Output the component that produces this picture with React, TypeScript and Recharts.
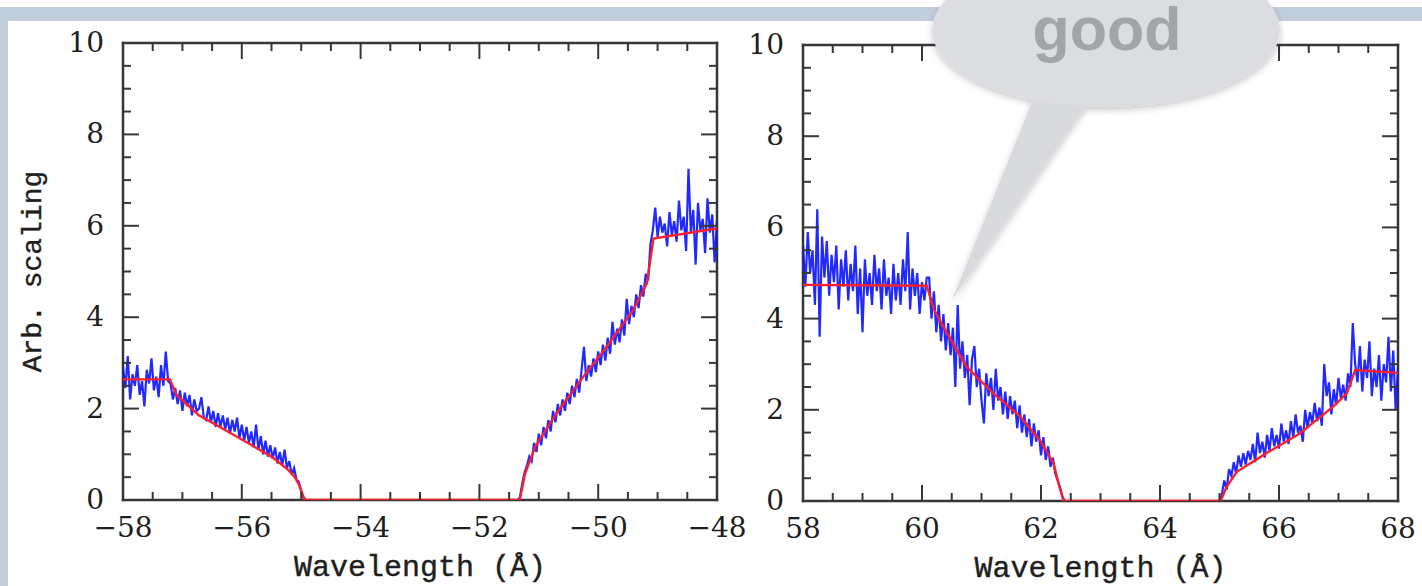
import React from 'react';
import { LineChart, Line, XAxis, YAxis, CartesianGrid } from 'recharts';

// ---------------- DATA ----------------
const STEP = 0.04; // wavelength sampling of the measured spectrum (Å)

// Left panel, measured (blue) spectrum
const LEFT_A_START = -58.0;
const leftBlueA = [
  2.9, 2.45, 3.15, 2.2, 2.75, 2.5, 2.95, 2.3, 2.6, 2.05, 2.85, 2.55, 3.1, 2.4, 2.7, 2.25, 2.95, 2.5, 3.25, 2.6,
  2.55, 2.2, 2.45, 2.1, 2.4, 1.95, 2.35, 2.05, 2.3, 1.85,
  2.2, 1.95, 2.0, 2.25, 1.8, 1.75, 2.05, 1.7, 1.95, 1.6,
  1.9, 1.6, 1.85, 1.55, 1.8, 1.45, 1.75, 1.5, 1.8, 1.35,
  1.65, 1.3, 1.6, 1.25, 1.5, 1.15, 1.65, 1.1, 1.4, 1.0,
  1.3, 0.95, 1.2, 0.9, 1.15, 0.8, 1.05, 0.75, 1.1, 0.7,
  0.85, 0.55, 0.7, 0.45, 0.4, 0.2, 0.05, 0,
];
const LEFT_B_START = -51.36;
const leftBlueB = [
  0, 0.05, 0.35, 0.6, 0.75, 0.95, 0.85, 1.25, 1.05, 1.45,
  1.2, 1.6, 1.35, 1.75, 1.5, 1.95, 1.7, 2.1, 1.85, 2.2,
  1.95, 2.35, 2.1, 2.5, 2.25, 2.65, 2.35, 2.85, 3.35, 2.6,
  2.95, 2.7, 3.1, 2.8, 3.25, 2.95, 3.4, 3.05, 3.55, 3.2,
  3.9, 3.4, 3.75, 3.45, 3.95, 3.6, 4.4, 3.85, 4.25, 4.0,
  4.5, 4.2, 4.7, 4.45, 4.95, 4.8, 5.6, 5.9, 6.4, 5.75,
  6.2, 5.85, 6.05, 5.55, 6.3, 5.8, 6.1, 5.65, 6.55, 5.9,
  6.2, 5.45, 7.25, 5.85, 6.35, 5.15, 6.5, 5.9, 6.15, 5.4,
  6.6, 5.85, 6.25, 5.2, 6.1,
];

// Left panel, model (red)
const leftModelX = [-58, -57.21, -57.1, -56.73, -56.28, -55.89, -55.5, -55.22, -55.12, -55.05, -55.0, -54.94, -51.32, -51.23, -51.06, -50.7, -50.25, -49.86, -49.41, -49.18, -49.07, -48.0];
const leftModelY = [2.64, 2.64, 2.3, 1.86, 1.53, 1.24, 0.95, 0.66, 0.52, 0.37, 0.2, 0, 0, 0.58, 1.17, 1.9, 2.7, 3.35, 4.16, 4.74, 5.72, 5.94];

// Right panel, measured (blue) spectrum
const RIGHT_A_START = 58.0;
const rightBlueA = [
  5.6, 4.7, 5.9, 5.0, 5.5, 4.3, 6.4, 3.6, 5.8, 4.9,
  5.7, 4.5, 5.4, 4.8, 5.6, 4.2, 5.3, 4.7, 5.5, 4.4,
  5.2, 4.6, 5.6, 4.1, 5.1, 3.7, 5.3, 4.5, 5.0, 4.3,
  5.4, 4.6, 5.1, 4.2, 5.3, 4.5, 4.9, 4.1, 5.2, 4.4,
  5.0, 4.3, 5.3, 4.6, 5.9, 4.2, 5.1, 4.5, 5.0, 4.1,
  4.8, 4.4, 4.9,
  4.9, 4.0, 4.6, 3.7, 4.3, 3.5, 4.1, 3.3, 3.9, 3.2,
  3.8, 2.5, 4.3, 2.9, 3.5, 2.7, 3.2, 2.1, 3.1, 3.4,
  2.5, 2.9, 2.2, 1.7, 2.8, 2.3, 2.7, 2.0, 2.9, 2.2,
  2.5, 1.9, 2.4, 1.8, 2.3, 1.9, 2.2, 1.6, 2.1, 1.5,
  1.9, 1.4, 1.8, 1.2, 1.7, 1.3, 1.55, 1.0, 1.4, 0.9,
  1.2, 0.75, 0.95, 0.6, 0.45, 0.3, 0.1, 0,
];
const RIGHT_B_START = 65.0;
const rightBlueB = [
  0.0, 0.15, 0.45, 0.25, 0.7, 0.55, 0.85, 0.6, 1.0, 0.75,
  1.05, 0.8, 1.1, 0.9, 1.25, 0.85, 1.5, 1.05, 1.3, 0.95,
  1.45, 1.1, 1.6, 1.2, 1.45, 1.15, 1.7, 1.3, 1.55, 1.25,
  1.75, 1.4, 1.9, 1.5, 1.65, 1.3, 2.0, 1.6, 1.95, 1.7,
  2.15, 1.75, 2.05, 1.65, 3.0, 2.3, 2.6, 1.9, 2.45, 2.1,
  2.7, 2.25, 2.55, 2.2, 2.8, 2.5, 3.9, 3.0, 2.6, 3.4,
  2.4, 3.1, 2.7, 3.5, 2.3, 2.9, 2.5, 3.2, 2.2, 3.0,
  2.6, 3.6, 2.4, 3.3, 2.0, 2.9,
];

// Right panel, model (red)
const rightModelX = [58, 60.08, 60.2, 60.36, 60.75, 61.2, 61.65, 61.98, 62.21, 62.31, 62.38, 65.02, 65.12, 65.29, 65.79, 66.35, 66.91, 67.14, 67.28, 68];
const rightModelY = [4.74, 4.72, 4.2, 3.82, 2.94, 2.36, 1.85, 1.34, 0.83, 0.31, 0, 0, 0.31, 0.64, 1.05, 1.48, 2.07, 2.36, 2.87, 2.81];

// Axis ticks
const LEFT_X_TICKS = [-58, -57.5, -57, -56.5, -56, -55.5, -55, -54.5, -54, -53.5, -53, -52.5, -52, -51.5, -51, -50.5, -50, -49.5, -49, -48.5, -48];
const RIGHT_X_TICKS = [58, 58.5, 59, 59.5, 60, 60.5, 61, 61.5, 62, 62.5, 63, 63.5, 64, 64.5, 65, 65.5, 66, 66.5, 67, 67.5, 68];
const Y_TICKS = [0, 0.5, 1, 1.5, 2, 2.5, 3, 3.5, 4, 4.5, 5, 5.5, 6, 6.5, 7, 7.5, 8, 8.5, 9, 9.5, 10];
const LEFT_DOMAIN: [number, number] = [-58, -48];
const RIGHT_DOMAIN: [number, number] = [58, 68];
const Y_DOMAIN: [number, number] = [0, 10];

const X_TITLE = 'Wavelength (Å)';
const Y_TITLE = 'Arb. scaling';
const BUBBLE_TEXT = 'good';

// ---------------- helpers ----------------
const toSeries = (start: number, ys: number[]) =>
  ys.map((y, i) => ({ x: Math.round((start + i * STEP) * 100) / 100, y }));
const zipSeries = (xs: number[], ys: number[]) => xs.map((x, i) => ({ x, y: ys[i] }));

const leftBlue = [...toSeries(LEFT_A_START, leftBlueA), ...toSeries(LEFT_B_START, leftBlueB)];
const leftRed = zipSeries(leftModelX, leftModelY);
const rightBlue = [...toSeries(RIGHT_A_START, rightBlueA), ...toSeries(RIGHT_B_START, rightBlueB)];
const rightRed = zipSeries(rightModelX, rightModelY);

const AXIS = '#363636';
const TEXT = '#1e1e1e';
const NUM_FONT = '"DejaVu Serif", serif';
const TITLE_FONT = '"Liberation Mono", "Courier New", monospace';
const MAJOR_LEN = 16;
const MINOR_LEN = 8;

const isMajor = (v: number) => Math.abs(v / 2 - Math.round(v / 2)) < 1e-6;
const fmt = (v: number) => (v < 0 ? '\u2212' + Math.abs(v) : String(v));

const bottomTick = (props: any) => {
  const { x, y, payload } = props;
  const v = payload.value as number;
  const major = isMajor(v);
  return (
    <g>
      <line x1={x} x2={x} y1={y} y2={y - (major ? MAJOR_LEN : MINOR_LEN)} stroke={AXIS} strokeWidth={2} />
      {major && (
        <text x={x} y={y + 37} textAnchor="middle" fontFamily={NUM_FONT} fontSize={28} fill={TEXT}>
          {fmt(v)}
        </text>
      )}
    </g>
  );
};
const topTick = (props: any) => {
  const { x, y, payload } = props;
  const major = isMajor(payload.value);
  return <line x1={x} x2={x} y1={y} y2={y + (major ? MAJOR_LEN : MINOR_LEN)} stroke={AXIS} strokeWidth={2} />;
};
const leftTick = (props: any) => {
  const { x, y, payload } = props;
  const v = payload.value as number;
  const major = isMajor(v);
  return (
    <g>
      <line x1={x} x2={x + (major ? MAJOR_LEN : MINOR_LEN)} y1={y} y2={y} stroke={AXIS} strokeWidth={2} />
      {major && (
        <text x={x - 19} y={y + 9} textAnchor="end" fontFamily={NUM_FONT} fontSize={28} fill={TEXT}>
          {fmt(v)}
        </text>
      )}
    </g>
  );
};
const rightTick = (props: any) => {
  const { x, y, payload } = props;
  const major = isMajor(payload.value);
  return <line x1={x} x2={x - (major ? MAJOR_LEN : MINOR_LEN)} y1={y} y2={y} stroke={AXIS} strokeWidth={2} />;
};

const xTitle = (props: any) => {
  const vb = props.viewBox || {};
  return (
    <text
      x={vb.x + vb.width / 2}
      y={vb.y + 76}
      textAnchor="middle"
      fontFamily={TITLE_FONT}
      fontSize={30}
      fill={TEXT}
      stroke={TEXT}
      strokeWidth={0.4}
    >
      {X_TITLE}
    </text>
  );
};
const yTitle = (props: any) => {
  const vb = props.viewBox || {};
  const cx = vb.x + vb.width - 90;
  const cy = vb.y + vb.height / 2;
  return (
    <text
      x={cx}
      y={cy}
      transform={`rotate(-90 ${cx} ${cy})`}
      textAnchor="middle"
      dominantBaseline="central"
      fontFamily={TITLE_FONT}
      fontSize={28}
      fill={TEXT}
      stroke={TEXT}
      strokeWidth={0.4}
    >
      {Y_TITLE}
    </text>
  );
};

// frame of the plot, taken from the chart's own plot offset
const frameH = (p: any) => [p.offset.top, p.offset.top + p.offset.height];
const frameV = (p: any) => [p.offset.left, p.offset.left + p.offset.width];

type PanelProps = {
  blue: { x: number; y: number }[];
  red: { x: number; y: number }[];
  domain: [number, number];
  ticks: number[];
  width: number;
  height: number;
  margin: { top: number; right: number; bottom: number; left: number };
  showYTitle: boolean;
  style: React.CSSProperties;
};

// Axes get a 1px band (0 would make Recharts skip drawing them); margins absorb it.
function Panel({ blue, red, domain, ticks, width, height, margin, showYTitle, style }: PanelProps) {
  const m = { top: margin.top - 1, right: margin.right - 1, bottom: margin.bottom - 1, left: margin.left - 1 };
  const common = {
    interval: 0 as const,
    allowDataOverflow: true,
    tickSize: 0,
    tickMargin: 0,
    tickLine: false,
    axisLine: false,
  };
  return (
    <div style={style}>
      <LineChart width={width} height={height} margin={m}>
        <CartesianGrid
          xAxisId="b"
          yAxisId="l"
          stroke={AXIS}
          strokeWidth={2.5}
          strokeLinecap="square"
          horizontalCoordinatesGenerator={frameH}
          verticalCoordinatesGenerator={frameV}
        />
        <XAxis xAxisId="b" type="number" dataKey="x" domain={domain} ticks={ticks} height={1} tick={bottomTick} label={xTitle} {...common} />
        <XAxis xAxisId="t" orientation="top" type="number" dataKey="x" domain={domain} ticks={ticks} height={1} tick={topTick} {...common} />
        <YAxis
          yAxisId="l"
          type="number"
          domain={Y_DOMAIN}
          ticks={Y_TICKS}
          width={1}
          tick={leftTick}
          label={showYTitle ? yTitle : undefined}
          {...common}
        />
        <YAxis yAxisId="r" orientation="right" type="number" domain={Y_DOMAIN} ticks={Y_TICKS} width={1} tick={rightTick} {...common} />
        <Line
          data={blue}
          dataKey="y"
          xAxisId="b"
          yAxisId="l"
          type="linear"
          stroke="#0a12ff"
          strokeOpacity={0.9}
          strokeWidth={2.2}
          dot={false}
          activeDot={false}
          isAnimationActive={false}
        />
        <Line
          data={red}
          dataKey="y"
          xAxisId="b"
          yAxisId="l"
          type="linear"
          stroke="#ff1f2a"
          strokeWidth={2.4}
          dot={false}
          activeDot={false}
          isAnimationActive={false}
        />
      </LineChart>
    </div>
  );
}

export default function App() {
  return (
    <div style={{ position: 'relative', width: 1422, height: 586, background: '#fff', overflow: 'hidden' }}>
      <style>{'body{margin:0;}'}</style>
      <div style={{ position: 'absolute', left: 0, top: 7, width: 1422, height: 14, background: '#c3cedd' }} />
      <div style={{ position: 'absolute', left: 0, top: 7, width: 8, height: 579, background: '#c3cedd' }} />
      <Panel
        blue={leftBlue}
        red={leftRed}
        domain={LEFT_DOMAIN}
        ticks={LEFT_X_TICKS}
        width={760}
        height={586}
        margin={{ top: 43, right: 43, bottom: 86, left: 123 }}
        showYTitle={true}
        style={{ position: 'absolute', left: 0, top: 0 }}
      />
      <Panel
        blue={rightBlue}
        red={rightRed}
        domain={RIGHT_DOMAIN}
        ticks={RIGHT_X_TICKS}
        width={682}
        height={586}
        margin={{ top: 45, right: 24, bottom: 85, left: 63 }}
        showYTitle={false}
        style={{ position: 'absolute', left: 740, top: 0 }}
      />
      <svg width={1422} height={586} style={{ position: 'absolute', left: 0, top: 0, pointerEvents: 'none' }}>
        <defs>
          <filter id="bubbleShadow" x="-20%" y="-30%" width="140%" height="170%">
            <feDropShadow dx="0" dy="3" stdDeviation="3.5" floodColor="#000" floodOpacity="0.22" />
          </filter>
        </defs>
        <g filter="url(#bubbleShadow)">
          <path d="M 1036 92 L 952 300 L 1090 100 Z" fill="#d9dadd" />
          <ellipse cx={1106} cy={30} rx={174} ry={77} fill="#dcdde0" />
        </g>
        <text
          x={1107}
          y={50}
          textAnchor="middle"
          fontFamily='"Liberation Sans", Arial, sans-serif'
          fontWeight="bold"
          fontSize={61}
          fill="#a2a6a6"
        >
          {BUBBLE_TEXT}
        </text>
      </svg>
    </div>
  );
}
